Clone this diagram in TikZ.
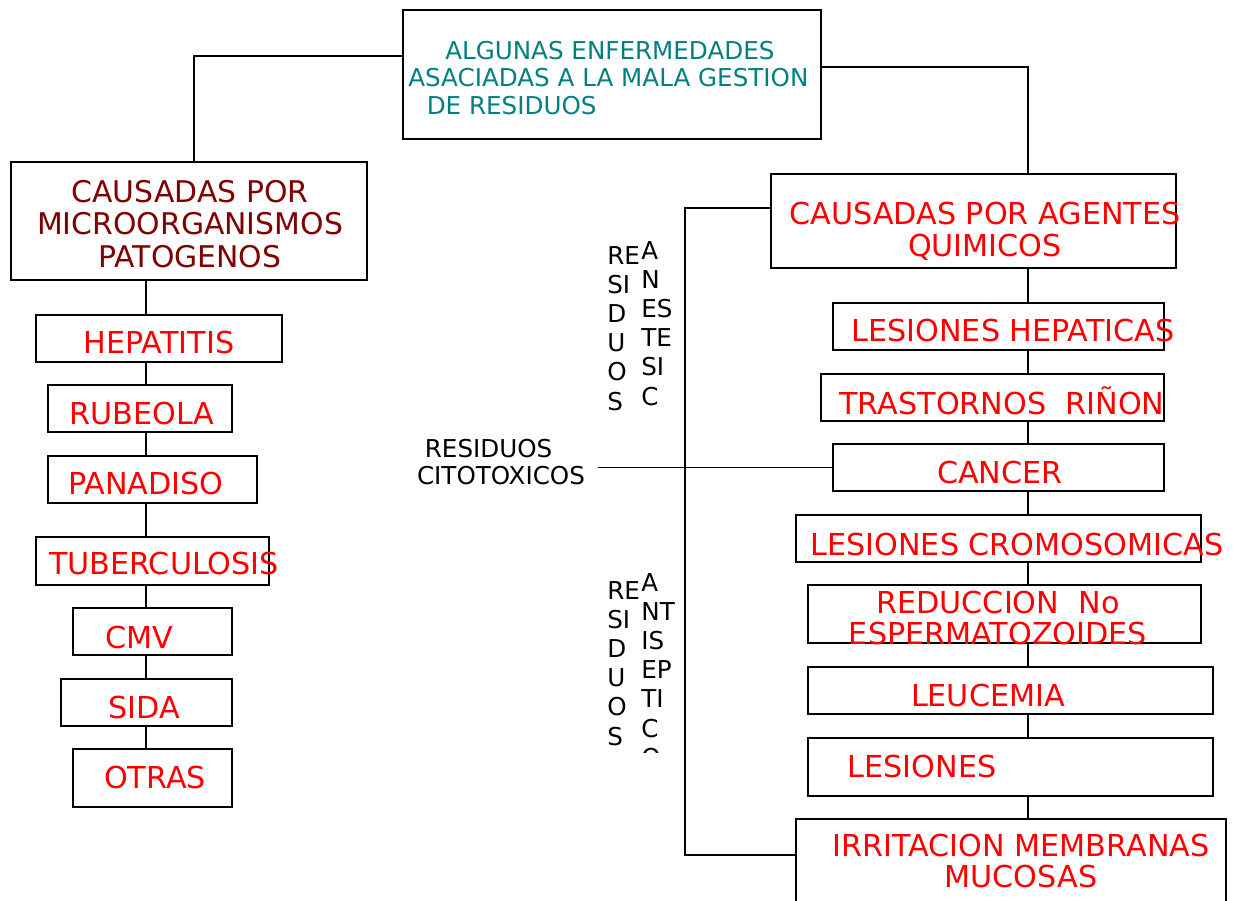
\documentclass[tikz,border=0pt]{standalone}
\usepackage{fontspec}
\setmainfont{DejaVu Sans}
\usepackage{tikz}
\usetikzlibrary{fit,positioning}
\definecolor{verdeazul}{RGB}{0,128,128}
\definecolor{granate}{RGB}{128,0,0}
\tikzset{
    %Define style for boxes
    caja/.style={
           rectangle,
           draw=black, line width=0.8pt,
           inner sep=0pt},
    %Define style for texts
    enfermedad/.style={
           text=red,
           inner sep=0pt,
           align=center,
           font=\fontsize{17.2}{18}\selectfont},
    grupo/.style={
           enfermedad,
           font=\fontsize{17}{18.7}\selectfont},
    titulo/.style={
           text=verdeazul,
           inner sep=0pt,
           align=left,
           font=\fontsize{14}{15.9}\selectfont},
    residuo/.style={
           text=black,
           inner sep=0pt,
           align=left,
           font=\fontsize{14}{16.6}\selectfont},
    % Define line style
    linea/.style={
           draw=black,
           line width=0.85pt}
}
\begin{document}
\begin{tikzpicture}[x=0.02cm,y=-0.02cm]
\useasboundingbox (0,0) rectangle (1236,901);

 %boxes
\node[caja, fit={(403,10) (821,139)}](tit){};
\node[caja, fit={(11,162) (367,280)}](micro){};
\node[caja, fit={(771,174) (1176,268)}](quim){};
\node[caja, fit={(36,315) (282,362)}](hep){};
\node[caja, fit={(48,385) (232,432)}](rub){};
\node[caja, fit={(48,456) (257,503)}](pan){};
\node[caja, fit={(36,537) (269,585)}](tub){};
\node[caja, fit={(73,608) (232,655)}](cmv){};
\node[caja, fit={(61,679) (232,726)}](sida){};
\node[caja, fit={(73,749) (232,807)}](otras){};
\node[caja, fit={(833,303) (1164,350)}](lhep){};
\node[caja, fit={(821,374) (1164,421)}](rin){};
\node[caja, fit={(833,444) (1164,491)}](canc){};
\node[caja, fit={(796,515) (1201,562)}](crom){};
\node[caja, fit={(808,585) (1201,643)}](esp){};
\node[caja, fit={(808,667) (1213,714)}](leuc){};
\node[caja, fit={(808,738) (1213,796)}](les){};
\node[caja, fit={(796,819) (1226,905)}](irr){};

 %texts
\node[titulo, anchor=west](titT) at (408,78)
   {\hspace*{21pt}ALGUNAS ENFERMEDADES\\ASACIADAS A LA MALA GESTION\\\hspace*{10.5pt}DE RESIDUOS};
\node[grupo, text=granate](microT) at (190,224) {CAUSADAS POR\\MICROORGANISMOS\\PATOGENOS};
\node[enfermedad](quimT) at (985,231) {CAUSADAS POR AGENTES\\QUIMICOS};
\node[enfermedad](hepT) at (159,343) {HEPATITIS};
\node[enfermedad](rubT) at (142,414) {RUBEOLA};
\node[enfermedad](panT) at (146,484) {PANADISO};
\node[enfermedad](tubT) at (164,563) {TUBERCULOSIS};
\node[enfermedad](cmvT) at (139,637) {CMV};
\node[enfermedad](sidaT) at (144,707) {SIDA};
\node[enfermedad](otrasT) at (155,777) {OTRAS};
\node[enfermedad](lhepT) at (1013,331) {LESIONES HEPATICAS};
\node[enfermedad](rinT) at (1002,401) {TRASTORNOS\ \ RIÑON};
\node[enfermedad](cancT) at (1000,472) {CANCER};
\node[enfermedad](cromT) at (1017,544) {LESIONES CROMOSOMICAS};
\node[enfermedad](espT) at (998,618) {REDUCCION\ \ No\\ESPERMATOZOIDES};
\node[enfermedad](leucT) at (988,695) {LEUCEMIA};
\node[enfermedad](lesT) at (922,766) {LESIONES};
\node[enfermedad](irrT) at (1021,861) {IRRITACION MEMBRANAS\\MUCOSAS};
\node[residuo, inner xsep=7pt, font=\fontsize{14}{15.3}\selectfont](cito) at (501,462)
   {\ RESIDUOS\\CITOTOXICOS};
\node[residuo, anchor=north west](anest1) at (607,246) {RE\\SI\\D\\U\\O\\S};
\node[residuo, anchor=north west](anest2) at (641,241) {A\\N\\ES\\TE\\SI\\C};
\node[residuo, anchor=north west](antis1) at (607,581) {RE\\SI\\D\\U\\O\\S};
\begin{scope}
\clip (630,560) rectangle (700,752);
\node[residuo, anchor=north west](antis2) at (641,573) {A\\NT\\IS\\EP\\TI\\C\\O};
\end{scope}

 %connectors
\coordinate (ejeI) at (146,0);
\coordinate (ejeD) at (1028,0);
\coordinate (llave) at (685,0);
\coordinate (llaveB) at ([yshift=0.14cm]irr.west);
\draw[linea] ([yshift=0.37cm]tit.west) -| ([xshift=0.1cm]micro.north);
\draw[linea] ([yshift=0.15cm]tit.east) -| (ejeD |- quim.north);
\foreach \a/\b in {micro/hep,hep/rub,rub/pan,pan/tub,tub/cmv,cmv/sida,sida/otras}
   \draw[linea] (\a.south -| ejeI) -- (\b.north -| ejeI);
\foreach \a/\b in {quim/lhep,lhep/rin,rin/canc,canc/crom,crom/esp,esp/leuc,leuc/les,les/irr}
   \draw[linea] (\a.south -| ejeD) -- (\b.north -| ejeD);
\draw[linea] ([yshift=0.26cm]quim.west) -| (llave |- llaveB) -- (llaveB);
\draw[linea] (cito.east |- canc.west) -- (canc.west);
\end{tikzpicture}
\end{document}
